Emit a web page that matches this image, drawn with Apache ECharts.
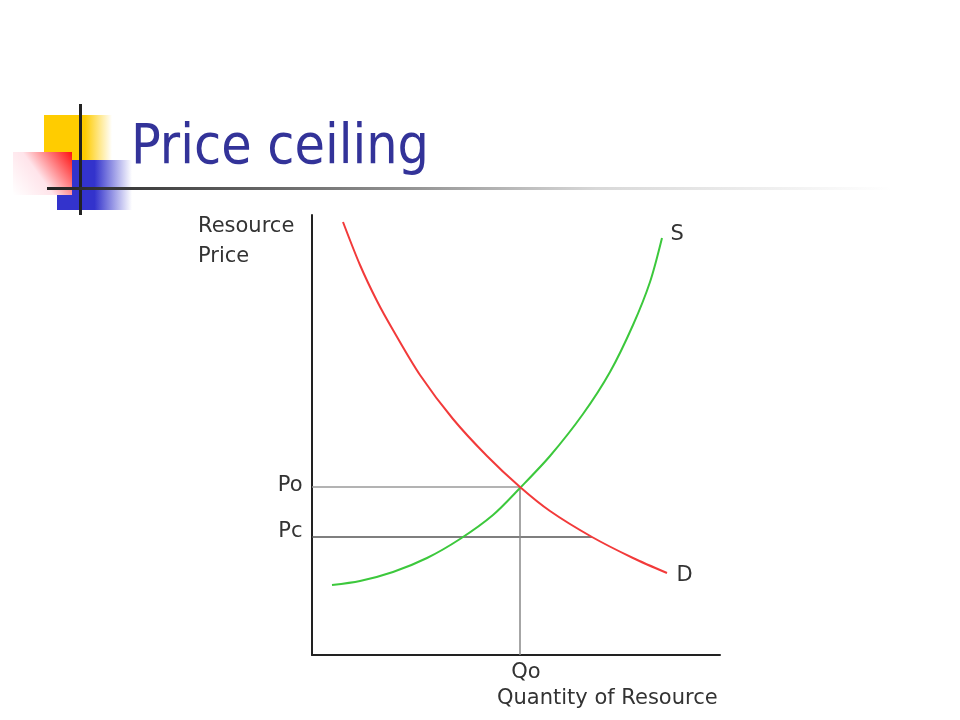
<!DOCTYPE html>
<html>
<head>
<meta charset="utf-8">
<title>Price ceiling</title>
<script src="https://cdn.jsdelivr.net/npm/echarts@6/dist/echarts.min.js"></script>
<style>
  html, body { margin: 0; padding: 0; background: #fff; }
  #chart { width: 960px; height: 720px; }
</style>
</head>
<body>
<div id="chart"></div>
<script>
// 曲线数据 (quantity, price)
var demand = [[31, 433], [48, 390], [65, 354], [81, 325], [108, 280], [141, 236],
              [175, 199], [208, 168], [238, 144], [280, 118], [321, 97], [355, 82]];
var supply = [[20, 70], [48, 74], [81, 83], [115, 97], [148, 116], [181, 140],
              [208, 167], [238, 199], [271, 241], [298, 283], [321, 330], [338, 373], [350, 417]];

// equilibrium and ceiling
var Qo = 208;
var Po = 168;
var Pc = 118;
var Qd = 280;   // demand at the ceiling price

var poLine = [[0, Po], [Qo, Po]];
var pcLine = [[0, Pc], [Qd, Pc]];
var qoLine = [[Qo, 0], [Qo, Po]];

var labelFont = 'DejaVu Sans';

var charts = echarts.init(document.getElementById('chart'));
var option = {
    backgroundColor: '#ffffff',
    animation: false,
    grid: {
        left: 312,
        right: 240,
        top: 215,
        bottom: 65
    },
    xAxis: {
        type: 'value',
        min: 0,
        max: 408,
        axisLine: { show: true, onZero: false, lineStyle: { color: '#222', width: 2 } },
        axisTick: { show: false },
        axisLabel: { show: false },
        splitLine: { show: false }
    },
    yAxis: {
        type: 'value',
        min: 0,
        max: 440,
        axisLine: { show: true, onZero: false, lineStyle: { color: '#222', width: 2 } },
        axisTick: { show: false },
        axisLabel: { show: false },
        splitLine: { show: false }
    },
    graphic: [
        // 标题装饰
        {
            type: 'rect', z: 1,
            shape: { x: 44, y: 115, width: 68, height: 45 },
            style: { fill: { type: 'linear', x: 0, y: 0, x2: 1, y2: 0,
                colorStops: [{ offset: 0, color: '#ffcc00' }, { offset: 0.6, color: '#ffcc00' }, { offset: 1, color: '#ffffff' }] } }
        },
        {
            type: 'rect', z: 2,
            shape: { x: 57, y: 160, width: 75, height: 50 },
            style: { fill: { type: 'linear', x: 0, y: 0, x2: 1, y2: 0,
                colorStops: [{ offset: 0, color: '#3333cc' }, { offset: 0.5, color: '#3333cc' }, { offset: 1, color: '#ffffff' }] } }
        },
        {
            type: 'rect', z: 3,
            shape: { x: 13, y: 152, width: 59, height: 43 },
            style: { fill: { type: 'linear', x: 0, y: 1, x2: 1, y2: 0,
                colorStops: [{ offset: 0, color: '#ffffff' }, { offset: 0.45, color: '#ffe4ea' }, { offset: 1, color: '#ff1010' }] } }
        },
        {
            type: 'rect', z: 4,
            shape: { x: 79, y: 104, width: 3, height: 111 },
            style: { fill: '#222' }
        },
        {
            type: 'rect', z: 4,
            shape: { x: 47, y: 187, width: 845, height: 3 },
            style: { fill: { type: 'linear', x: 0, y: 0, x2: 1, y2: 0,
                colorStops: [{ offset: 0, color: '#222222' }, { offset: 0.45, color: '#999999' },
                             { offset: 0.65, color: '#d8d8d8' }, { offset: 1, color: '#ffffff' }] } }
        },
        {
            type: 'text', z: 5,
            left: 131, top: 121,
            style: { text: 'Price ceiling', fill: '#333399', font: '55px "DejaVu Sans Condensed", "DejaVu Sans"' }
        },
        // 坐标轴名称
        {
            type: 'text', z: 5,
            left: 198, top: 212,
            style: { text: 'Resource\nPrice', fill: '#333', font: '21px ' + labelFont, lineHeight: 30 }
        },
        {
            type: 'text', z: 5,
            left: 497, top: 688,
            style: { text: 'Quantity of Resource', fill: '#333', font: '21px ' + labelFont }
        }
    ],
    series: [
        {
            name: 'Po',
            type: 'line',
            data: poLine,
            symbol: 'none',
            lineStyle: { color: '#9a9a9a', width: 1.5 },
            z: 1
        },
        {
            name: 'Pc',
            type: 'line',
            data: pcLine,
            symbol: 'none',
            lineStyle: { color: '#555555', width: 1.5 },
            z: 1
        },
        {
            name: 'Qo',
            type: 'line',
            data: qoLine,
            symbol: 'none',
            lineStyle: { color: '#888888', width: 1.5 },
            z: 1
        },
        {
            name: 'D',
            type: 'line',
            data: demand,
            smooth: 0.3,
            symbol: 'none',
            lineStyle: { color: '#f23a3a', width: 2 },
            z: 3
        },
        {
            name: 'S',
            type: 'line',
            data: supply,
            smooth: 0.3,
            symbol: 'none',
            lineStyle: { color: '#3cc83c', width: 2 },
            z: 2
        },
        {
            name: 'labels',
            type: 'scatter',
            symbolSize: 1,
            itemStyle: { color: 'rgba(0,0,0,0)', opacity: 1 },
            label: {
                show: true,
                color: '#333',
                fontFamily: labelFont,
                fontSize: 21,
                formatter: function (p) { return p.value[2]; }
            },
            data: [
                { value: [0, Po, 'Po'], label: { position: 'left', distance: 9, offset: [0, -1] } },
                { value: [0, Pc, 'Pc'], label: { position: 'left', distance: 9, offset: [0, -5] } },
                { value: [Qo, 0, 'Qo'], label: { position: 'bottom', distance: 7, offset: [6, 0] } },
                { value: [supply[supply.length - 1][0], supply[supply.length - 1][1], 'S'], label: { position: 'right', distance: 8, offset: [0, -3] } },
                { value: [demand[demand.length - 1][0], demand[demand.length - 1][1], 'D'], label: { position: 'right', distance: 9, offset: [0, 3] } }
            ],
            z: 4
        }
    ]
};
//渲染图表
if (option && typeof option === "object") {
    charts.setOption(option, true);
}
</script>
</body>
</html>
